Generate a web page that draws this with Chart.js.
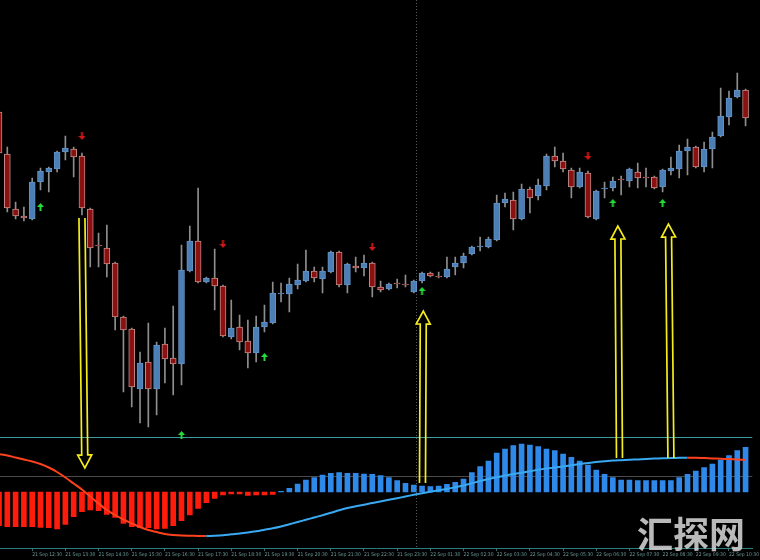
<!DOCTYPE html>
<html>
<head>
<meta charset="utf-8">
<script src="https://cdn.jsdelivr.net/npm/chart.js@4.4.0/dist/chart.umd.min.js"></script>
<style>
html, body { margin: 0; padding: 0; background: #000; }
canvas { display: block; }
</style>
</head>
<body>
<canvas id="chart" width="760" height="560"></canvas>
<script>
// M15 candles, price in points
const openP = [
  388, 346, 291, 284, 281, 318, 328, 331, 348, 351,
  344, 291, 255, 252, 237, 183, 171, 111, 138, 111,
  156, 142, 136, 229, 259, 218, 222, 214, 163, 173,
  159, 147, 173, 177, 206, 206, 215, 219, 229, 221,
  228, 248, 215, 234, 232, 237, 213, 211, 217, 216,
  208, 219, 227, 224, 223, 233, 237, 246, 253, 253,
  260, 297, 300, 281, 311, 304, 314, 344, 339, 330,
  313, 327, 281, 311, 312, 321, 319, 328, 323, 323,
  313, 329, 331, 349, 353, 333, 351, 364, 383, 403, 410
];
const highP = [
  392, 353, 298, 293, 322, 332, 333, 349, 364, 353,
  347, 292, 267, 275, 238, 184, 172, 148, 177, 158,
  172, 194, 255, 274, 312, 223, 251, 215, 200, 185,
  180, 184, 195, 218, 217, 222, 236, 250, 233, 233,
  249, 249, 237, 243, 245, 238, 219, 217, 221, 225,
  220, 228, 228, 228, 243, 243, 247, 254, 263, 263,
  305, 307, 308, 316, 313, 321, 346, 353, 347, 332,
  332, 329, 310, 318, 323, 324, 332, 337, 332, 324,
  331, 343, 355, 361, 354, 358, 368, 412, 409, 427, 411
];
const lowP = [
  342, 288, 281, 279, 280, 310, 308, 328, 340, 323,
  285, 233, 233, 223, 170, 108, 93, 77, 73, 85,
  117, 105, 115, 228, 217, 217, 190, 163, 161, 150,
  132, 138, 168, 176, 198, 188, 211, 218, 218, 207,
  227, 213, 207, 228, 224, 203, 208, 210, 212, 213,
  207, 217, 223, 222, 222, 225, 232, 245, 249, 252,
  259, 293, 270, 280, 287, 300, 310, 333, 328, 302,
  312, 282, 280, 302, 309, 305, 313, 312, 313, 311,
  308, 325, 322, 325, 332, 328, 332, 363, 375, 402, 374
];
const closeP = [
  347, 292, 284, 282, 318, 329, 332, 348, 352, 343,
  292, 252, 254, 236, 183, 170, 113, 137, 111, 155,
  141, 136, 230, 259, 218, 222, 214, 164, 172, 158,
  147, 173, 178, 207, 207, 216, 220, 229, 222, 229,
  248, 215, 236, 232, 237, 213, 210, 216, 216, 215,
  219, 227, 224, 223, 231, 237, 244, 253, 254, 261,
  297, 301, 281, 311, 302, 315, 344, 339, 331, 313,
  328, 283, 309, 312, 319, 320, 331, 322, 322, 312,
  330, 332, 349, 353, 333, 351, 363, 384, 402, 410, 382
];

// oscillator histogram and its signal line
const oscHist = [
  -33.7, -34.7, -34.7, -34.7, -34.7, -35.3, -35.7, -37, -32.3, -24.7,
  -19.7, -18, -18.7, -22.3, -25.3, -31.3, -34.7, -35.7, -35.7, -37,
  -36.3, -33.7, -28.7, -23, -16.3, -10.7, -6.3, -3, -2, -2,
  -3.5, -3, -3, -2.3, 0.6, 3.7, 8, 12, 14.3, 17,
  18.7, 19.3, 18.7, 18.7, 18, 17.7, 16.3, 14.3, 11.3, 8.7,
  7, 6, 5.3, 6, 7.7, 9.7, 13, 19.3, 25.3, 31,
  39, 43, 46.3, 48, 47, 45.3, 43, 41.3, 38, 34.7,
  31, 27, 22, 17.7, 14.3, 12, 12, 11.3, 11.3, 11.3,
  11.3, 11.3, 14.3, 17.7, 21, 24.3, 28, 32, 36.3, 41.3, 44.7
];
const oscLine = [
  38, 36.5, 34.5, 32.5, 30.5, 28, 24.5, 20, 14.5, 8.5,
  2.5, -4.5, -11.5, -18, -23, -27.5, -31.3, -35, -38, -40,
  -42, -43, -43.6, -43.8, -43.9, -44, -43.7, -43.2, -42.3, -41.5,
  -40.5, -39.3, -37.8, -36.3, -34.5, -32.3, -30, -27.8, -25.5, -23.2,
  -20.8, -18.3, -16, -14.3, -12.7, -11, -9.5, -7.8, -6.2, -4.5,
  -2.8, -1.2, 0.3, 1.7, 3, 4.7, 6.5, 8.7, 11, 13,
  14.7, 16.4, 18, 19.3, 20.7, 22.2, 23.5, 24.6, 25.6, 26.7,
  28, 29, 30, 30.7, 31.4, 31.8, 32.2, 32.6, 33, 33.4,
  33.7, 34, 34.2, 34.3, 34.2, 33.9, 33.6, 33.3, 32.9, 32.5, 32.2
];
const oscPanelTop = 55;
const oscLevel = 16;

// signal arrows
const sellIdx = [10, 27, 45, 71];
const sellPrice = [364, 256, 253, 344];
const buyIdx = [5, 32, 51, 74, 80];
const buyPrice = [293, 143, 209, 297, 297];
const oscBuyIdx = [22];
const oscBuyVal = [57];

// hand-drawn yellow arrows: price end, oscillator end
const arrowPriceIdx = [10.0, 51.15, 74.6, 80.7];
const arrowPriceVal = [282, 189, 274, 276];
const arrowOscIdx = [10.35, 51.05, 74.8, 81.0];
const arrowOscVal = [24, 9, 34, 34];
const arrowDown = [true, false, false, false];

const separatorIdx = 50.25;

const tickIdx = [4, 8, 12, 16, 20, 24, 28, 32, 36, 40, 44, 48, 52, 56, 60, 64, 68, 72, 76, 80, 84, 88];
const timeLabels = [
  '21 Sep 12:30', '21 Sep 13:30', '21 Sep 14:30', '21 Sep 15:30', '21 Sep 16:30', '21 Sep 17:30',
  '21 Sep 18:30', '21 Sep 19:30', '21 Sep 20:30', '21 Sep 21:30', '21 Sep 22:30', '21 Sep 23:30',
  '22 Sep 01:30', '22 Sep 02:30', '22 Sep 03:30', '22 Sep 04:30', '22 Sep 05:30', '22 Sep 06:30',
  '22 Sep 07:30', '22 Sep 08:30', '22 Sep 09:30', '22 Sep 10:30'
];

const bullFill = '#4b7fb6', bullEdge = '#6592c4';
const bearFill = '#8b1010', bearEdge = '#c48a8a';
const wickCol = '#8e8e8e';

function arrowIcon(color, up) {
  const c = document.createElement('canvas');
  c.width = 7; c.height = 8;
  const g = c.getContext('2d');
  g.fillStyle = color;
  g.beginPath();
  if (up) {
    g.moveTo(3.5, 0); g.lineTo(7, 4); g.lineTo(0, 4);
    g.closePath(); g.fill();
    g.fillRect(2.5, 4, 2, 4);
  } else {
    g.moveTo(3.5, 8); g.lineTo(7, 4); g.lineTo(0, 4);
    g.closePath(); g.fill();
    g.fillRect(2.5, 0, 2, 4);
  }
  return c;
}

const idx = openP.map((_, i) => i);
const isBull = idx.map(i => closeP[i] >= openP[i]);

const overlay = {
  id: 'overlay',
  beforeDatasetsDraw(chart) {
    const {ctx, chartArea: a, scales: {x, y2}} = chart;
    ctx.save();
    ctx.lineWidth = 1;
    ctx.strokeStyle = '#3a9c9c';
    let py = Math.round(y2.getPixelForValue(oscPanelTop)) + 0.5;
    ctx.beginPath(); ctx.moveTo(a.left, py); ctx.lineTo(a.right, py); ctx.stroke();
    ctx.strokeStyle = '#4a4a4a';
    py = Math.round(y2.getPixelForValue(oscLevel)) + 0.5;
    ctx.beginPath(); ctx.moveTo(a.left, py); ctx.lineTo(a.right, py); ctx.stroke();
    ctx.strokeStyle = '#5a5a5a';
    ctx.setLineDash([1, 2]);
    const px = Math.round(x.getPixelForValue(separatorIdx)) + 0.5;
    ctx.beginPath(); ctx.moveTo(px, a.top); ctx.lineTo(px, a.bottom); ctx.stroke();
    ctx.restore();
  },
  afterDatasetsDraw(chart) {
    const {ctx, scales: {x, y, y2}} = chart;
    ctx.save();
    ctx.strokeStyle = '#f4ec1c';
    ctx.lineWidth = 1.7;
    ctx.lineJoin = 'miter';
    arrowPriceIdx.forEach((_, k) => {
      const p = {x: x.getPixelForValue(arrowPriceIdx[k]), y: y.getPixelForValue(arrowPriceVal[k])};
      const o = {x: x.getPixelForValue(arrowOscIdx[k]), y: y2.getPixelForValue(arrowOscVal[k])};
      const tail = arrowDown[k] ? p : o;
      const tip = arrowDown[k] ? o : p;
      const dx = tip.x - tail.x, dy = tip.y - tail.y;
      const len = Math.hypot(dx, dy);
      const ux = dx / len, uy = dy / len;
      const nx = -uy, ny = ux;
      const w = 3, hw = 7, hl = 13;
      const bx = tip.x - ux * hl, by = tip.y - uy * hl;
      ctx.beginPath();
      ctx.moveTo(tail.x + nx * w, tail.y + ny * w);
      ctx.lineTo(bx + nx * w, by + ny * w);
      ctx.lineTo(bx + nx * hw, by + ny * hw);
      ctx.lineTo(tip.x, tip.y);
      ctx.lineTo(bx - nx * hw, by - ny * hw);
      ctx.lineTo(bx - nx * w, by - ny * w);
      ctx.lineTo(tail.x - nx * w, tail.y - ny * w);
      ctx.stroke();
    });
    ctx.restore();
  },
  afterDraw(chart) {
    const {ctx} = chart;
    ctx.save();
    ctx.font = 'bold 36px "Noto Sans CJK SC"';
    ctx.fillStyle = 'rgba(205,205,205,0.9)';
    ctx.textBaseline = 'alphabetic';
    ctx.fillText('汇探网', chart.width - 123, 548);
    ctx.restore();
  }
};

const ctx = document.getElementById('chart').getContext('2d');
const chart = new Chart(ctx, {
  type: 'bar',
  data: {
    datasets: [
      {
        label: 'wick',
        data: idx.map(i => ({x: i, y: [lowP[i], highP[i]]})),
        backgroundColor: wickCol,
        barThickness: 1,
        grouped: false,
        yAxisID: 'y',
        order: 6
      },
      {
        label: 'body',
        data: idx.map(i => ({x: i, y: [openP[i], closeP[i]]})),
        backgroundColor: idx.map(i => isBull[i] ? bullFill : bearFill),
        borderColor: idx.map(i => isBull[i] ? bullEdge : bearEdge),
        borderWidth: 1,
        borderSkipped: false,
        barThickness: 6,
        grouped: false,
        yAxisID: 'y',
        order: 5
      },
      {
        label: 'histogram',
        data: idx.map(i => ({x: i, y: oscHist[i]})),
        backgroundColor: idx.map(i => oscHist[i] >= 0 ? '#2f89e8' : '#ff1c0c'),
        barThickness: 5,
        grouped: false,
        yAxisID: 'y2',
        order: 4
      },
      {
        type: 'line',
        label: 'signal',
        data: idx.map(i => ({x: i, y: oscLine[i]})),
        borderWidth: 2,
        pointRadius: 0,
        tension: 0.3,
        yAxisID: 'y2',
        segment: {
          borderColor: c => c.p1.parsed.y < c.p0.parsed.y ? '#ff421e' : '#39a9f2'
        },
        order: 3
      },
      {
        type: 'line',
        label: 'sell',
        data: sellIdx.map((v, k) => ({x: v, y: sellPrice[k]})),
        showLine: false,
        pointStyle: arrowIcon('#d01818', false),
        yAxisID: 'y',
        order: 1
      },
      {
        type: 'line',
        label: 'buy',
        data: buyIdx.map((v, k) => ({x: v, y: buyPrice[k]})),
        showLine: false,
        pointStyle: arrowIcon('#22dd3a', true),
        yAxisID: 'y',
        order: 1
      },
      {
        type: 'line',
        label: 'osc buy',
        data: oscBuyIdx.map((v, k) => ({x: v, y: oscBuyVal[k]})),
        showLine: false,
        pointStyle: arrowIcon('#22dd3a', true),
        yAxisID: 'y2',
        order: 1
      }
    ]
  },
  options: {
    responsive: false,
    animation: false,
    events: [],
    layout: {padding: 0, autoPadding: false},
    plugins: {legend: {display: false}, tooltip: {enabled: false}},
    scales: {
      x: {
        type: 'linear',
        offset: false,
        min: 0.119,
        max: 90.81,
        afterBuildTicks: s => { s.ticks = tickIdx.map(v => ({value: v})); },
        afterFit: s => { s.height = 12; },
        grid: {display: true, offset: false, drawOnChartArea: false, tickLength: 3, color: '#3c6c6c'},
        border: {display: true, color: '#2c7f80'},
        ticks: {
          autoSkip: false,
          maxRotation: 0,
          align: 'start',
          padding: 1,
          color: '#6a9a9a',
          font: {family: 'DejaVu Sans Condensed', size: 5},
          callback: (v, k) => timeLabels[k]
        }
      },
      y: {display: false, min: -48, max: 500},
      y2: {display: false, min: -56, max: 492}
    }
  },
  plugins: [overlay]
});
</script>
</body>
</html>
